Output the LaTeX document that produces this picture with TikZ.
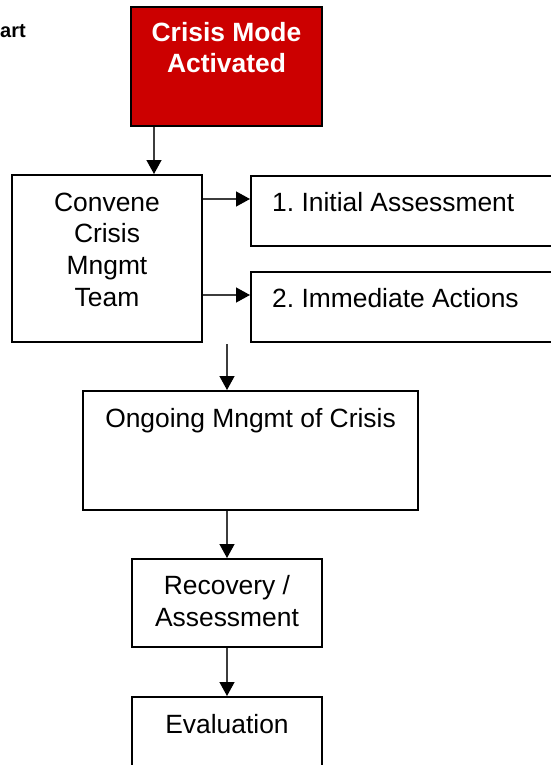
\documentclass[tikz,border=0pt]{standalone}
\usepackage{fontspec}
\setmainfont{Liberation Sans}
\usetikzlibrary{arrows.meta}
\definecolor{alert}{RGB}{204,0,0}
\definecolor{wire}{RGB}{60,60,60}

\begin{document}
\frenchspacing
\begin{tikzpicture}[x=1pt,y=-1pt,every node/.style={inner sep=0pt},
  box/.style={draw,line width=2pt,rectangle},
  txt/.style={font=\fontsize{26.4}{31.6}\selectfont,align=center,anchor=base},
  hd/.style={txt,text=white,font=\fontsize{26.4}{31}\selectfont\bfseries},
  arr/.style={draw=wire,line width=1.3pt,-{Triangle[length=14pt,width=15pt,color=black]}}]
\useasboundingbox (0,0) rectangle (551,765);

% Boxes
\node[box,fill=alert,minimum width=191pt,minimum height=119pt] (crisis) at (226.5,66.5) {};
\node[box,minimum width=190pt,minimum height=167pt] (conv) at (107,258.5) {};
\node[box,minimum width=318pt,minimum height=70pt] (ia) at (410,211) {};
\node[box,minimum width=318pt,minimum height=70pt] (act) at (410,307) {};
\node[box,minimum width=335pt,minimum height=119pt] (ong) at (250.5,450.5) {};
\node[box,minimum width=190pt,minimum height=88pt] (rec) at (227,603) {};
\node[box,minimum width=190pt,minimum height=110pt] (ev) at (227,752) {};

%Arrows
\coordinate (g1) at ([yshift=12pt]ia.west);
\coordinate (g2) at ([yshift=12pt]act.west);
\coordinate (g3) at (227,344);
\draw[arr] ([xshift=24pt]crisis.south west) -- ([xshift=24pt]crisis.south west |- conv.north);
\draw[arr] (conv.east |- g1) -- (g1);
\draw[arr] (conv.east |- g2) -- (g2);
\draw[arr] (g3) -- (g3 |- ong.north);
\draw[arr] (ong.south -| rec.north) -- (rec.north);
\draw[arr] (rec.south) -- (ev.north);

% Text (multi-line nodes sit on their last baseline)
\node[font=\fontsize{20}{24}\selectfont\bfseries,anchor=base west] (title) at (0,37.3) {art};
\node[hd] (tcrisis) at (226.5,73) {Crisis Mode\\Activated};
\node[txt] (tconv) at (107,306) {Convene\\Crisis\\Mngmt\\Team};
\node[txt,anchor=base west] (tia) at (272,211) {1. Initial Assessment};
\node[txt,anchor=base west] (tact) at (272,307) {2. Immediate Actions};
\node[txt] (tong) at (250.5,427) {Ongoing Mngmt of Crisis};
\node[txt] (trec) at (227,626) {Recovery /\\Assessment};
\node[txt] (tev) at (227,733) {Evaluation};
\end{tikzpicture}
\end{document}
